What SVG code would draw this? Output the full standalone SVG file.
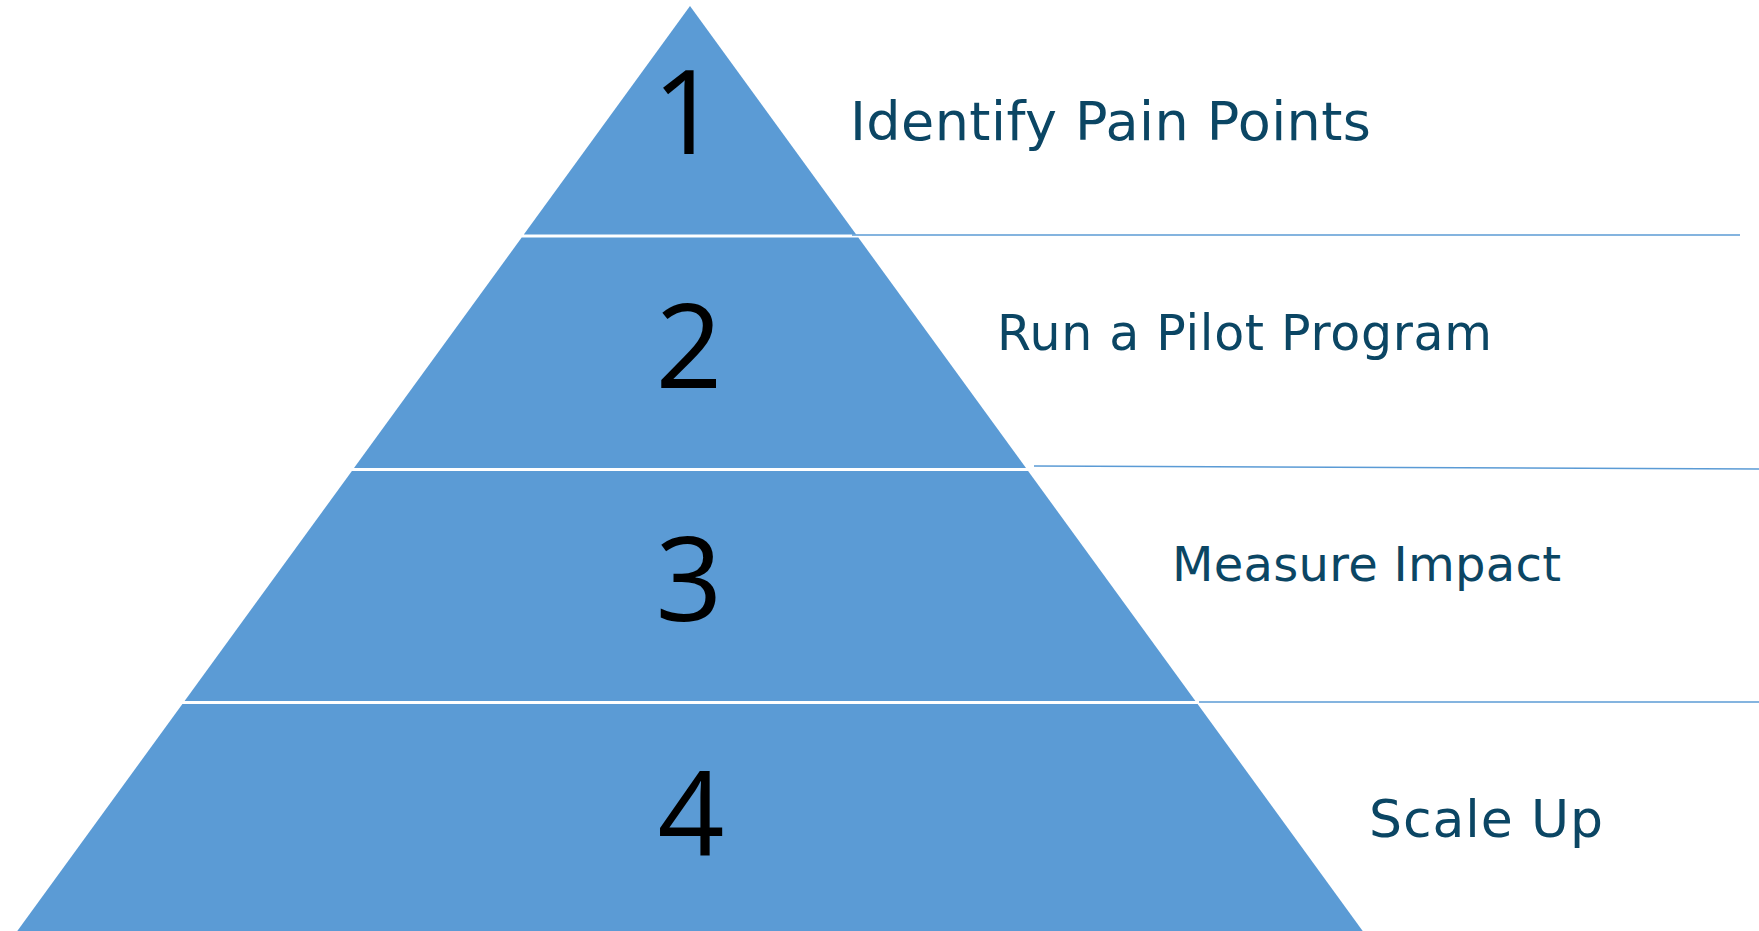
<svg xmlns="http://www.w3.org/2000/svg" width="1759" height="931" viewBox="0 0 1759 931">
<style>
.tier{fill:#5B9BD5;stroke:none}
.num{font-family:"Open Sans","Noto Sans","DejaVu Sans",sans-serif;font-weight:400;font-size:117px;fill:#000000;text-anchor:middle}
.lbl{font-family:"DejaVu Sans","Liberation Sans",sans-serif;fill:#0B4664}
.conn{stroke:#5B9BD5;stroke-width:1.6;fill:none}
</style>
<rect width="1759" height="931" fill="#FFFFFF"/>
<g id="connectors">
<line class="conn" x1="852" y1="235" x2="1740" y2="235"/>
<line class="conn" x1="1034" y1="466" x2="1759" y2="469"/>
<line class="conn" x1="1199" y1="702" x2="1759" y2="702"/>
</g>
<g id="tier1">
<polygon class="tier" points="690,6 856.2,234.5 523.8,234.5"/>
<text class="num" x="686" y="154">1</text>
</g>
<g id="tier2">
<polygon class="tier" points="521.7,237.5 858.3,237.5 1026,468 354,468"/>
<text class="num" x="689" y="388">2</text>
</g>
<g id="tier3">
<polygon class="tier" points="351.9,471 1028.1,471 1195.4,701 184.6,701"/>
<text class="num" x="689" y="621">3</text>
</g>
<g id="tier4">
<polygon class="tier" points="182.4,704 1197.6,704 1362.7,931 17.3,931"/>
<text class="num" x="691" y="855">4</text>
</g>
<g id="label1"><text class="lbl" x="850" y="140" font-size="54" textLength="521">Identify Pain Points</text></g>
<g id="label2"><text class="lbl" x="997" y="350" font-size="49" textLength="495">Run a Pilot Program</text></g>
<g id="label3"><text class="lbl" x="1172" y="581" font-size="48" textLength="389">Measure Impact</text></g>
<g id="label4"><text class="lbl" x="1369" y="837" font-size="52" textLength="234">Scale Up</text></g>
</svg>
